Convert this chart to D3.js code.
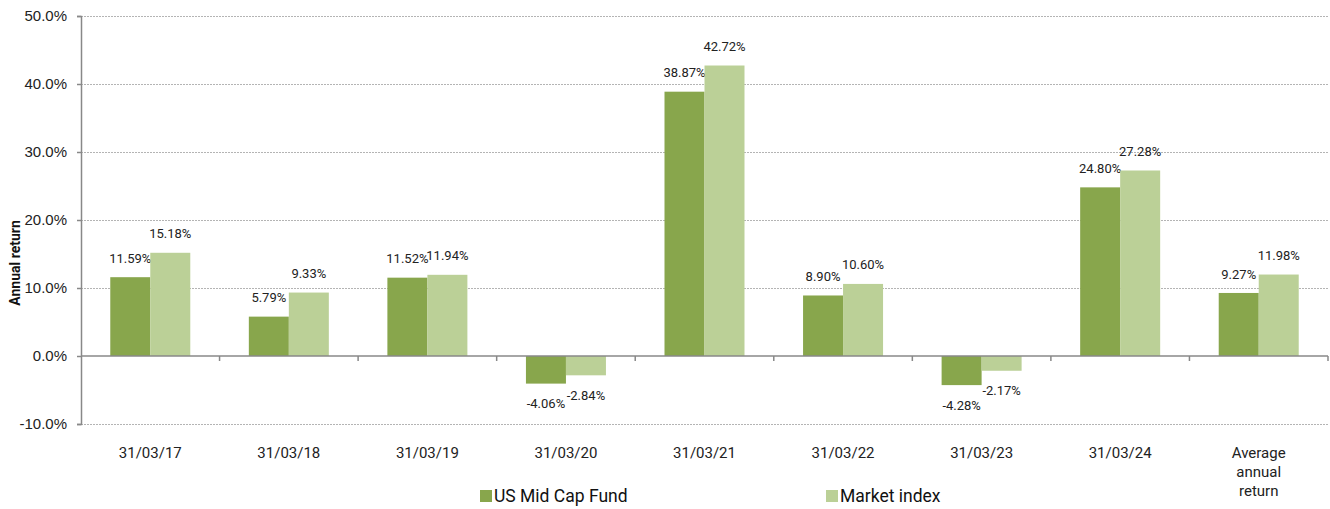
<!DOCTYPE html>
<html lang="en">
<head>
<meta charset="utf-8">
<script src="https://d3js.org/d3.v7.min.js"></script>
<style>
  body { margin: 0; background: #fff; }
  svg { font-family: Roboto, "Liberation Sans", sans-serif; }
</style>
</head>
<body>
<div id="chart"></div>
<script>
// chart data
var categories = ["31/03/17", "31/03/18", "31/03/19", "31/03/20", "31/03/21", "31/03/22", "31/03/23", "31/03/24", "Average annual return"];
var seriesNames = ["US Mid Cap Fund", "Market index"];
var fundValues = [11.59, 5.79, 11.52, -4.06, 38.87, 8.90, -4.28, 24.80, 9.27];
var indexValues = [15.18, 9.33, 11.94, -2.84, 42.72, 10.60, -2.17, 27.28, 11.98];
var yTicks = [-10, 0, 10, 20, 30, 40, 50];
var colors = ["#88a64c", "#bbd097"];

var W = 1330, H = 509;
var margin = {top: 16, right: 2, bottom: 85, left: 81};
var width = W - margin.left - margin.right,
    height = H - margin.top - margin.bottom;

var svg = d3.select("#chart").append("svg")
    .attr("width", W).attr("height", H)
  .append("g")
    .attr("transform", "translate(" + margin.left + "," + margin.top + ")");

var x = d3.scaleBand().domain(categories).range([0, width]).padding(0);
var y = d3.scaleLinear().domain([-10, 50]).range([height, 0]);

// gridlines
svg.append("g").selectAll("line")
  .data(yTicks.filter(function(d){ return d != 0; }))
  .join("line")
    .attr("x1", 0).attr("x2", width)
    .attr("y1", function(d){ return y(d); }).attr("y2", function(d){ return y(d); })
    .attr("stroke", "#b4b4b4")
    .attr("stroke-dasharray", "2,1")
    .attr("shape-rendering", "crispEdges");

// bars
var barW = 40;
var series = [fundValues, indexValues];
series.forEach(function(vals, s) {
  svg.append("g").selectAll("rect")
    .data(categories)
    .join("rect")
      .attr("x", function(d){ return x(d) + x.bandwidth()/2 - barW + s*barW; })
      .attr("width", barW)
      .attr("y", function(d, i){ return y(Math.max(0, vals[i])); })
      .attr("height", function(d, i){ return Math.abs(y(vals[i]) - y(0)); })
      .attr("fill", colors[s]);

  svg.append("g").selectAll("text")
    .data(categories)
    .join("text")
      .attr("x", function(d){ return x(d) + x.bandwidth()/2 - barW/2 + s*barW; })
      .attr("y", function(d, i){ return vals[i] >= 0 ? y(vals[i]) - 19 : y(vals[i]) + 20; })
      .attr("dy", "0.35em")
      .attr("text-anchor", "middle")
      .style("font-size", "13px")
      .attr("fill", "#222")
      .text(function(d, i){ return vals[i].toFixed(2) + "%"; });
});

// y axis
var yAxis = svg.append("g")
  .call(d3.axisLeft(y).tickValues(yTicks).tickSize(4).tickPadding(10)
    .tickFormat(function(d){ return d.toFixed(1) + "%"; }));
yAxis.select(".domain").attr("stroke", "#888").attr("stroke-width", 1.5);
yAxis.selectAll(".tick line").attr("stroke", "#888").attr("stroke-width", 1.5);
yAxis.selectAll("text").style("font-size", "15px").attr("fill", "#222");

// zero line with category ticks
svg.append("line")
  .attr("x1", 0).attr("x2", width)
  .attr("y1", y(0)).attr("y2", y(0))
  .attr("stroke", "#888").attr("stroke-width", 1.5);
svg.append("g").selectAll("line")
  .data(categories.slice(1).concat(["end"]))
  .join("line")
    .attr("x1", function(d, i){ return (i + 1) * x.bandwidth(); })
    .attr("x2", function(d, i){ return (i + 1) * x.bandwidth(); })
    .attr("y1", y(0)).attr("y2", y(0) + 5)
    .attr("stroke", "#888").attr("stroke-width", 1.5);

// category labels
var catLabels = svg.append("g").selectAll("text")
  .data(categories)
  .join("text")
    .attr("x", function(d){ return x(d) + x.bandwidth()/2; })
    .attr("y", height + 34)
    .attr("text-anchor", "middle")
    .style("font-size", "15px")
    .attr("fill", "#222");
catLabels.each(function(d) {
  var lines = d == "Average annual return" ? ["Average", "annual", "return"] : [d];
  var t = d3.select(this);
  lines.forEach(function(l, i) {
    t.append("tspan").attr("x", t.attr("x")).attr("dy", i == 0 ? 0 : 19).text(l);
  });
});

// y axis title
svg.append("text")
  .attr("transform", "translate(" + (-66) + "," + (263 - margin.top) + ") rotate(-90)")
  .attr("text-anchor", "middle")
  .attr("dy", "0.35em")
  .style("font-size", "14px")
  .style("font-weight", "bold")
  .attr("fill", "#111")
  .text("Annual return");

// legend
var legendX = [480, 826];
seriesNames.forEach(function(name, i) {
  var lg = svg.append("g")
    .attr("transform", "translate(" + (legendX[i] - margin.left) + "," + (496 - margin.top) + ")");
  lg.append("rect").attr("x", 0).attr("y", -6).attr("width", 12).attr("height", 12).attr("fill", colors[i]);
  lg.append("text").attr("x", 14).attr("y", 0).attr("dy", "0.35em")
    .style("font-size", "17.5px").attr("fill", "#111").text(name);
});
</script>
</body>
</html>
